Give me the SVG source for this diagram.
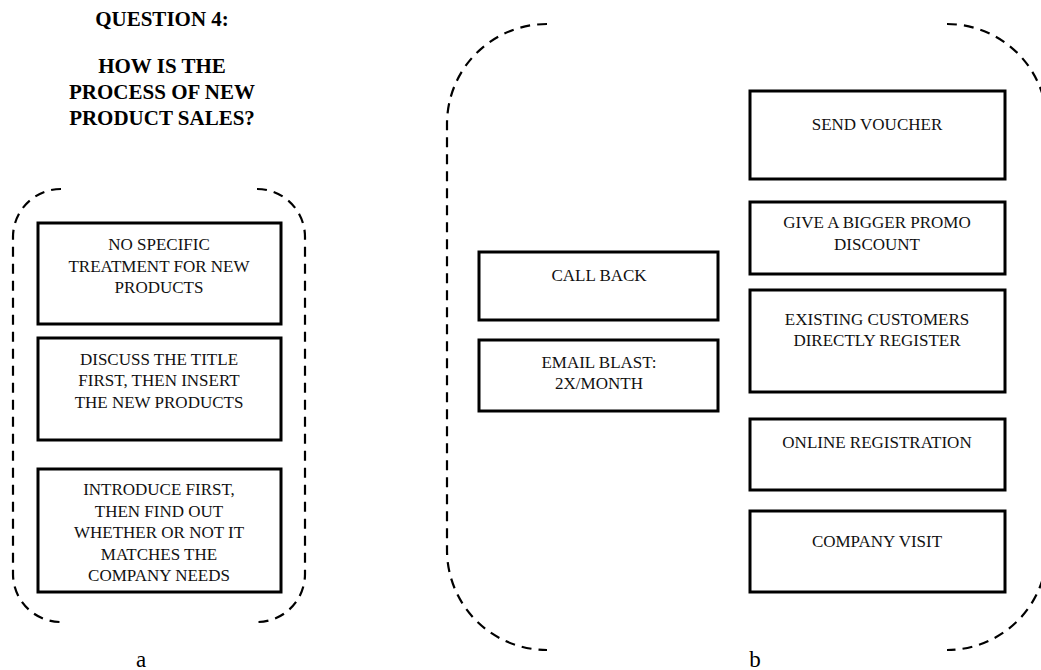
<svg xmlns="http://www.w3.org/2000/svg" width="1041" height="670" viewBox="0 0 1041 670">
  <style>
    .box { fill: #ffffff; stroke: #000000; stroke-width: 3; }
    .frame { fill: none; stroke: #000000; stroke-width: 2.2; stroke-dasharray: 10 7; }
    .txt { font-family: "Liberation Serif", "Times New Roman", serif; font-size: 17px; fill: #111111; text-anchor: middle; }
    .title { font-family: "Liberation Serif", "Times New Roman", serif; font-size: 21px; font-weight: bold; fill: #000000; text-anchor: middle; }
    .label { font-family: "Liberation Serif", "Times New Roman", serif; font-size: 23px; fill: #000000; text-anchor: middle; }
  </style>
  <rect width="1041" height="670" fill="#ffffff"/>

  <!-- heading -->
  <g id="heading">
    <text class="title" x="162" y="26">QUESTION 4:</text>
    <text class="title" x="162" y="73">HOW IS THE</text>
    <text class="title" x="162" y="99">PROCESS OF NEW</text>
    <text class="title" x="162" y="125">PRODUCT SALES?</text>
  </g>

  <!-- dashed group outlines -->
  <g id="frame-a">
    <path class="frame" d="M61,189 A48,48 0 0 0 13,237 L13,574 A48,48 0 0 0 61,622"/>
    <path class="frame" d="M257,189 A48,48 0 0 1 305,237 L305,574 A48,48 0 0 1 257,622"/>
  </g>
  <g id="frame-b">
    <path class="frame" d="M547,24 A100,100 0 0 0 447,124 L447,550 A100,100 0 0 0 547,650"/>
    <path class="frame" d="M947,24 A100,100 0 0 1 1047,124 L1047,550 A100,100 0 0 1 947,650"/>
  </g>

  <!-- group a -->
  <g id="a-no-specific">
    <rect class="box" x="38" y="223" width="243" height="101"/>
    <text class="txt" x="159" y="250">NO SPECIFIC</text>
    <text class="txt" x="159" y="272">TREATMENT FOR NEW</text>
    <text class="txt" x="159" y="293">PRODUCTS</text>
  </g>
  <g id="a-discuss-title">
    <rect class="box" x="38" y="338" width="243" height="102"/>
    <text class="txt" x="159" y="365">DISCUSS THE TITLE</text>
    <text class="txt" x="159" y="386">FIRST, THEN INSERT</text>
    <text class="txt" x="159" y="408">THE NEW PRODUCTS</text>
  </g>
  <g id="a-introduce-first">
    <rect class="box" x="38" y="469" width="243" height="123"/>
    <text class="txt" x="159" y="495">INTRODUCE FIRST,</text>
    <text class="txt" x="159" y="517">THEN FIND OUT</text>
    <text class="txt" x="159" y="538">WHETHER OR NOT IT</text>
    <text class="txt" x="159" y="560">MATCHES THE</text>
    <text class="txt" x="159" y="581">COMPANY NEEDS</text>
  </g>

  <!-- group b -->
  <g id="b-call-back">
    <rect class="box" x="479" y="252" width="239" height="68"/>
    <text class="txt" x="599" y="281">CALL BACK</text>
  </g>
  <g id="b-email-blast">
    <rect class="box" x="479" y="340" width="239" height="71"/>
    <text class="txt" x="599" y="368">EMAIL BLAST:</text>
    <text class="txt" x="599" y="389">2X/MONTH</text>
  </g>
  <g id="b-send-voucher">
    <rect class="box" x="750" y="91" width="255" height="88"/>
    <text class="txt" x="877" y="130">SEND VOUCHER</text>
  </g>
  <g id="b-bigger-promo">
    <rect class="box" x="750" y="202" width="255" height="72"/>
    <text class="txt" x="877" y="228">GIVE A BIGGER PROMO</text>
    <text class="txt" x="877" y="250">DISCOUNT</text>
  </g>
  <g id="b-existing-customers">
    <rect class="box" x="750" y="290" width="255" height="102"/>
    <text class="txt" x="877" y="325">EXISTING CUSTOMERS</text>
    <text class="txt" x="877" y="346">DIRECTLY REGISTER</text>
  </g>
  <g id="b-online-registration">
    <rect class="box" x="750" y="419" width="255" height="71"/>
    <text class="txt" x="877" y="448">ONLINE REGISTRATION</text>
  </g>
  <g id="b-company-visit">
    <rect class="box" x="750" y="511" width="255" height="81"/>
    <text class="txt" x="877" y="547">COMPANY VISIT</text>
  </g>

  <!-- no connectors in this figure -->
  <g id="connectors"/>

  <!-- panel captions -->
  <g id="captions">
    <text class="label" x="141" y="667">a</text>
    <text class="label" x="755" y="667">b</text>
  </g>
</svg>
